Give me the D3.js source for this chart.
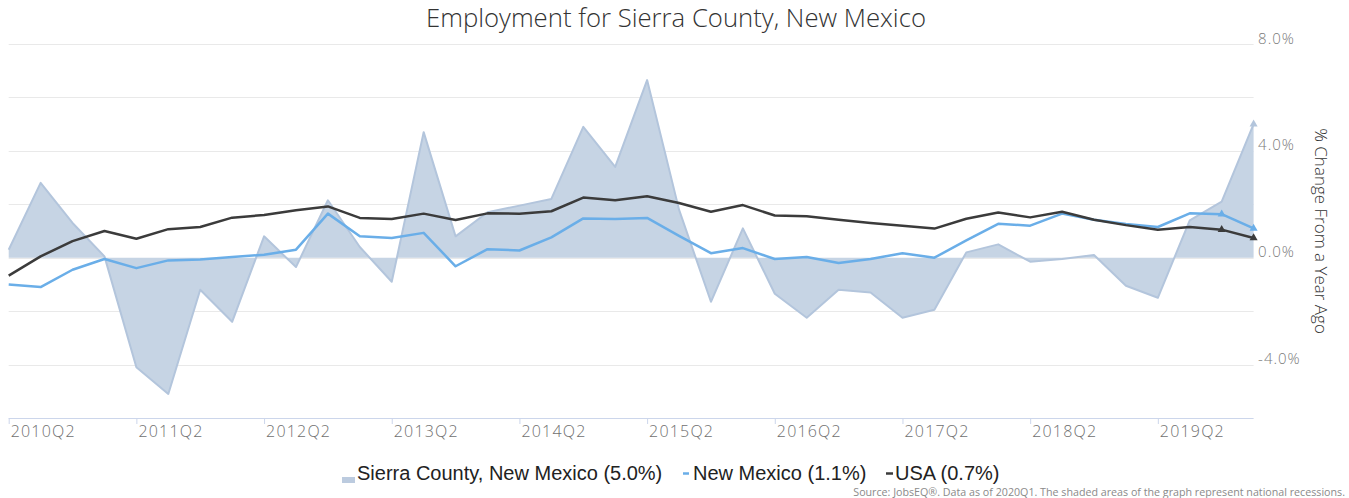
<!DOCTYPE html>
<html>
<head>
<meta charset="utf-8">
<script src="https://cdn.jsdelivr.net/npm/d3@7"></script>
<style>
  html, body { margin: 0; padding: 0; background: #fff; }
  svg { display: block; }
</style>
</head>
<body>
<svg id="chart" width="1349" height="498"></svg>
<script>
// ---------------- DATA ----------------
const quarters = [
  "2010Q2","2010Q3","2010Q4","2011Q1","2011Q2","2011Q3","2011Q4","2012Q1",
  "2012Q2","2012Q3","2012Q4","2013Q1","2013Q2","2013Q3","2013Q4","2014Q1",
  "2014Q2","2014Q3","2014Q4","2015Q1","2015Q2","2015Q3","2015Q4","2016Q1",
  "2016Q2","2016Q3","2016Q4","2017Q1","2017Q2","2017Q3","2017Q4","2018Q1",
  "2018Q2","2018Q3","2018Q4","2019Q1","2019Q2","2019Q3","2019Q4","2020Q1"
];
const sierraCounty = [
  0.3, 2.8, 1.3, 0.05, -4.1, -5.1, -1.2, -2.4,
  0.8, -0.35, 2.15, 0.4, -0.9, 4.7, 0.8, 1.7,
  1.95, 2.2, 4.9, 3.4, 6.65, 1.8, -1.65, 1.1,
  -1.35, -2.25, -1.2, -1.3, -2.25, -1.95, 0.2, 0.5,
  -0.15, -0.05, 0.1, -1.05, -1.5, 1.4, 2.1, 5.0
];
const newMexico = [
  -1.0, -1.1, -0.45, -0.05, -0.39, -0.1, -0.07, 0.03,
  0.11, 0.3, 1.65, 0.8, 0.74, 0.93, -0.32, 0.32,
  0.27, 0.76, 1.47, 1.45, 1.49, 0.82, 0.17, 0.36,
  -0.05, 0.03, -0.2, -0.05, 0.17, 0.0, 0.65, 1.27,
  1.2, 1.65, 1.42, 1.26, 1.15, 1.66, 1.63, 1.1
];
const usa = [
  -0.67, 0.05, 0.62, 1.0, 0.71, 1.07, 1.15, 1.5,
  1.6, 1.78, 1.92, 1.49, 1.45, 1.65, 1.41, 1.66,
  1.65, 1.74, 2.25, 2.15, 2.3, 2.05, 1.72, 1.97,
  1.58, 1.55, 1.42, 1.3, 1.2, 1.09, 1.46, 1.69,
  1.51, 1.72, 1.42, 1.22, 1.05, 1.15, 1.05, 0.74
];
const gridValues = [8, 6, 4, 2, 0, -2, -4];
const yTickLabels = [8, 4, 0, -4];
const xTickIndices = [0, 4, 8, 12, 16, 20, 24, 28, 32, 36];
const legendLabels = ["Sierra County, New Mexico (5.0%)", "New Mexico (1.1%)", "USA (0.7%)"];
const titleText = "Employment for Sierra County, New Mexico";
const axisTitle = "% Change From a Year Ago";
const sourceText = "Source: JobsEQ\u00AE. Data as of 2020Q1. The shaded areas of the graph represent national recessions.";

// ---------------- LAYOUT ----------------
const svg = d3.select("#chart");
const plotLeft = 8.7, plotRight = 1253.6, plotTop = 44, plotBottom = 418;
const x = d3.scaleLinear().domain([0, quarters.length - 1]).range([plotLeft, plotRight]);
const y = d3.scaleLinear().domain([-6, 8]).range([plotBottom, plotTop]);

const C = {
  areaFill: "#c6d4e4", areaStroke: "#b3c5dc",
  nm: "#6aaee8", usa: "#3b3b3b",
  grid: "#e9e9e9", axis: "#ccd6eb"
};

function fitText(sel, width) {
  const len = sel.node().getComputedTextLength();
  const fs = parseFloat(sel.attr("font-size"));
  sel.attr("font-size", (fs * width / len).toFixed(2));
}

// gridlines
svg.append("g").selectAll("line").data(gridValues).join("line")
  .attr("x1", plotLeft).attr("x2", plotRight)
  .attr("y1", d => Math.round(y(d)) + 0.5).attr("y2", d => Math.round(y(d)) + 0.5)
  .attr("stroke", C.grid).attr("stroke-width", 1);

// x axis
const xAxis = d3.axisBottom(x).tickValues(xTickIndices)
  .tickFormat(i => quarters[i]).tickSize(6).tickSizeOuter(0);
const gx = svg.append("g").attr("transform", `translate(0,${plotBottom})`).call(xAxis);
gx.select(".domain").attr("stroke", C.axis).attr("d", `M${plotLeft},0.5H${plotRight}`);
gx.selectAll(".tick line").attr("stroke", C.axis);
gx.selectAll(".tick text")
  .attr("text-anchor", "start").attr("x", 1.5).attr("y", 19).attr("dy", 0)
  .attr("fill", "#6f6f6f").attr("font-family", "'Open Sans', sans-serif")
  .attr("font-weight", 300).attr("font-size", 16).attr("letter-spacing", "1.2px");

// y axis (right)
const yAxis = d3.axisRight(y).tickValues(yTickLabels)
  .tickFormat(d => d.toFixed(1) + "%").tickSize(0).tickPadding(4.5);
const gy = svg.append("g").attr("transform", `translate(${plotRight},0)`).call(yAxis);
gy.select(".domain").remove();
gy.selectAll(".tick text")
  .attr("dy", -1).attr("fill", "#7a7a7a")
  .attr("font-family", "'Open Sans', sans-serif").attr("font-weight", 300)
  .attr("font-size", 15).attr("letter-spacing", "1px");

// area (Sierra County)
const area = d3.area().x((d, i) => x(i)).y0(y(0)).y1(d => y(d));
const line = d3.line().x((d, i) => x(i)).y(d => y(d));
svg.append("path").datum(sierraCounty).attr("d", area).attr("fill", C.areaFill);
svg.append("path").datum(sierraCounty).attr("d", line)
  .attr("fill", "none").attr("stroke", C.areaStroke).attr("stroke-width", 2)
  .attr("stroke-linejoin", "round");

// lines
svg.append("path").datum(newMexico).attr("d", line)
  .attr("fill", "none").attr("stroke", C.nm).attr("stroke-width", 2.5)
  .attr("stroke-linejoin", "round");
svg.append("path").datum(usa).attr("d", line)
  .attr("fill", "none").attr("stroke", C.usa).attr("stroke-width", 2.5)
  .attr("stroke-linejoin", "round");

// end markers
const tri = d3.symbol(d3.symbolTriangle).size(28);
const lastIdx = quarters.length - 1;
const markers = [
  {s: sierraCounty, i: lastIdx, c: C.areaStroke},
  {s: newMexico, i: lastIdx - 1, c: C.nm}, {s: newMexico, i: lastIdx, c: C.nm},
  {s: usa, i: lastIdx - 1, c: C.usa}, {s: usa, i: lastIdx, c: C.usa}
];
svg.append("g").selectAll("path").data(markers).join("path")
  .attr("d", tri).attr("fill", d => d.c)
  .attr("transform", d => `translate(${x(d.i)},${y(d.s[d.i])})`);

// title
const title = svg.append("text").text(titleText)
  .attr("x", 676).attr("y", 27).attr("text-anchor", "middle")
  .attr("font-family", "'Open Sans', sans-serif").attr("font-weight", 300)
  .attr("font-size", 25).attr("fill", "#333");
fitText(title, 500);

// axis title
svg.append("text").text(axisTitle)
  .attr("transform", `translate(1315,${(plotTop + plotBottom) / 2}) rotate(90)`)
  .attr("text-anchor", "middle")
  .attr("font-family", "'Open Sans', sans-serif").attr("font-weight", 300)
  .attr("font-size", 17).attr("fill", "#333");

// legend
const lg = svg.append("g").attr("font-family", "'Liberation Sans', Arial, sans-serif")
  .attr("font-size", 20).attr("fill", "#222");
lg.append("rect").attr("x", 342).attr("y", 477).attr("width", 13).attr("height", 6).attr("fill", "#bccbdf");
lg.append("text").attr("x", 357).attr("y", 480).text(legendLabels[0]);
lg.append("line").attr("x1", 683).attr("x2", 689).attr("y1", 473.5).attr("y2", 473.5)
  .attr("stroke", C.nm).attr("stroke-width", 2.5);
lg.append("text").attr("x", 693).attr("y", 480).text(legendLabels[1]);
lg.append("line").attr("x1", 886).attr("x2", 893).attr("y1", 473.5).attr("y2", 473.5)
  .attr("stroke", C.usa).attr("stroke-width", 2.5);
lg.append("text").attr("x", 895).attr("y", 480).text(legendLabels[2]);

// source
const src = svg.append("text").text(sourceText)
  .attr("x", 1345).attr("y", 496).attr("text-anchor", "end")
  .attr("font-family", "'Open Sans', sans-serif").attr("font-size", 10)
  .attr("fill", "#8a8a8a");
fitText(src, 492);
</script>
</body>
</html>
